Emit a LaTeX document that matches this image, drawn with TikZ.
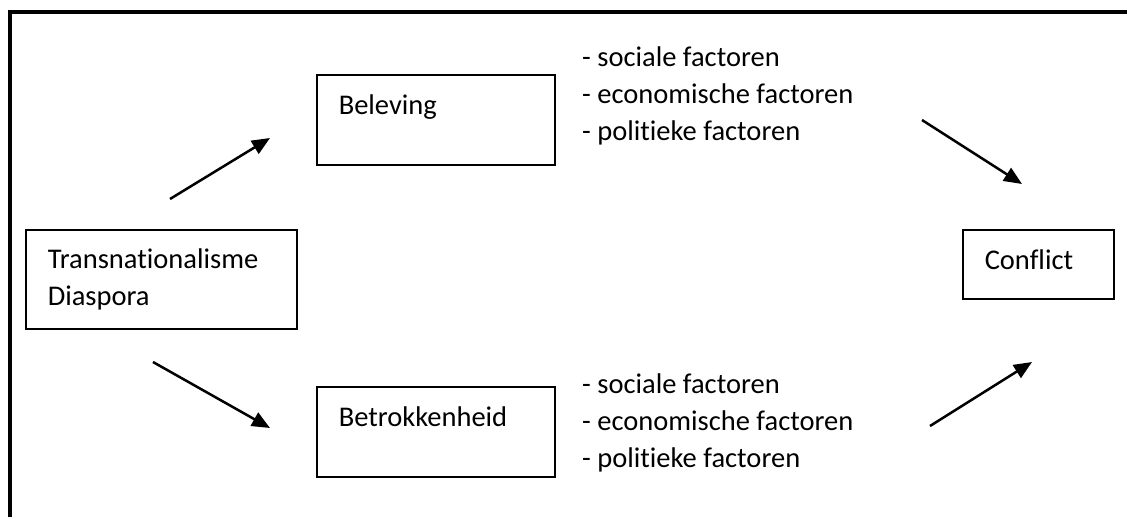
\documentclass[tikz,border=0pt]{standalone}
\usepackage{fontspec}
\setmainfont{Carlito}[Ligatures=NoCommon]
\usetikzlibrary{arrows.meta}

\begin{document}
\begin{tikzpicture}[x=1pt, y=-1pt,
every node/.style = {font=\fontsize{28.5}{37}\selectfont, inner ysep=0pt},
  kader/.style = {draw, line width=1.5pt, anchor=north west, align=left, inner xsep=22pt},
  lijst/.style = {anchor=base west, align=left, inner xsep=0pt},
  pijl/.style = {line width=2.5pt, -{Triangle[length=18pt, width=15pt]}}
]
\useasboundingbox (0,0) rectangle (1127,517);
\draw[line width=4pt] (9.5,517) -- (9.5,12) -- (1140,12);

\node[kader, text width=227pt, text height=39pt, text depth=60pt] (trans) at (25,229) {Transnationalisme\\Diaspora};
\node[kader, text width=194pt, text height=40pt, text depth=50pt] (beleving) at (316,74) {Beleving};
\node[kader, text width=194pt, text height=40pt, text depth=50pt] (betrok) at (316,386) {Betrokkenheid};
\node[kader, text width=107pt, text height=40pt, text depth=29pt] (conflict) at (962,229) {Conflict};

% base west = baseline of the last line
\node[lijst] (boven) at (582,140) {- sociale factoren\\- economische factoren\\- politieke factoren};
\node[lijst] (onder) at (582,467) {- sociale factoren\\- economische factoren\\- politieke factoren};

\coordinate (a1) at (170,199);
\coordinate (a2) at (270,138);
\coordinate (b1) at (153,362);
\coordinate (b2) at (270,428);
\coordinate (c1) at (922,120);
\coordinate (c2) at (1022,184);
\coordinate (d1) at (930,426);
\coordinate (d2) at (1032,362);

\draw[pijl] (a1) -- (a2);
\draw[pijl] (b1) -- (b2);
\draw[pijl] (c1) -- (c2);
\draw[pijl] (d1) -- (d2);
% \draw[pijl] (beleving) -- (conflict);
\end{tikzpicture}
\end{document}
